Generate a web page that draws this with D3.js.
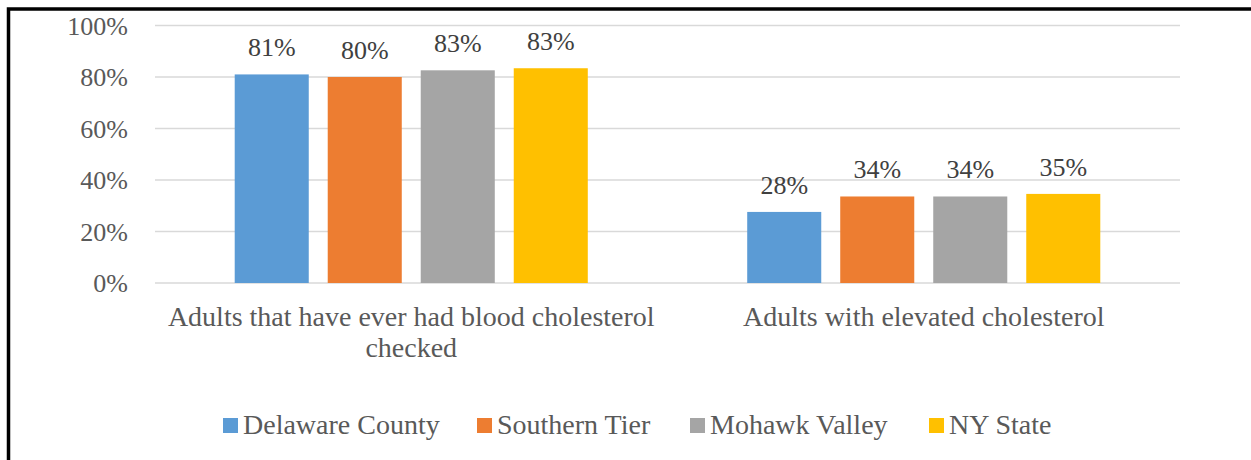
<!DOCTYPE html>
<html><head><meta charset="utf-8">
<script src="https://cdn.jsdelivr.net/npm/d3@7"></script>
<style>html,body{margin:0;padding:0;background:#fff;}svg{display:block;}</style>
</head><body>
<svg id="chart" width="1251" height="460"></svg>
<script>
const categories = ["Adults that have ever had blood cholesterol|checked", "Adults with elevated cholesterol"];
const seriesNames = ["Delaware County", "Southern Tier", "Mohawk Valley", "NY State"];
const seriesColors = ["#5b9bd5", "#ed7d31", "#a5a5a5", "#ffc000"];
const delawareCounty = [0.81, 0.276];
const southernTier = [0.80, 0.336];
const mohawkValley = [0.826, 0.336];
const nyState = [0.834, 0.346];
const yTicks = [0, 0.2, 0.4, 0.6, 0.8, 1.0];

(function () {
const seriesValues = [delawareCounty, southernTier, mohawkValley, nyState];
const svg = d3.select("#chart");
const font = "'Liberation Serif','Times New Roman',serif";

// frame
svg.append("rect").attr("x", 8.5).attr("y", 9).attr("width", 1400).attr("height", 600)
  .attr("fill", "none").attr("stroke", "#000").attr("stroke-width", 3.5);

const pLeft = 155, pRight = 1180, pTop = 25.5, pBottom = 283;
const y = d3.scaleLinear().domain([0, 1]).range([pBottom, pTop]);
const x0 = d3.scaleBand().domain(categories).range([pLeft, pRight]).padding(0);
const x1 = d3.scaleBand().domain(seriesNames).range([0, x0.bandwidth()])
  .paddingInner(0.204).paddingOuter(0.857);

// gridlines
svg.append("g").selectAll("line").data(yTicks).join("line")
  .attr("x1", pLeft).attr("x2", pRight)
  .attr("y1", d => y(d)).attr("y2", d => y(d))
  .attr("stroke", "#d9d9d9").attr("stroke-width", 1.5);

// y axis labels
const yAxis = d3.axisLeft(y).tickValues(yTicks).tickFormat(d3.format(".0%")).tickSize(0).tickPadding(0);
const gy = svg.append("g").attr("transform", `translate(128,0)`).call(yAxis);
gy.select(".domain").remove();
gy.selectAll("text").attr("font-family", font).attr("font-size", 26).attr("fill", "#595959").attr("dy", "0.34em");

// bars
const data = [];
categories.forEach((c, ci) => seriesNames.forEach((s, si) => data.push({c, s, si, v: seriesValues[si][ci]})));
svg.append("g").selectAll("rect").data(data).join("rect")
  .attr("x", d => x0(d.c) + x1(d.s))
  .attr("y", d => y(d.v))
  .attr("width", x1.bandwidth())
  .attr("height", d => y(0) - y(d.v))
  .attr("fill", (d) => seriesColors[d.si]);

// data labels
svg.append("g").selectAll("text").data(data).join("text")
  .attr("x", d => x0(d.c) + x1(d.s) + x1.bandwidth() / 2)
  .attr("y", d => y(d.v) - 18)
  .attr("text-anchor", "middle")
  .attr("font-family", font).attr("font-size", 26).attr("fill", "#404040")
  .text(d => Math.round(d.v * 100) + "%");

// category labels
const cg = svg.append("g").selectAll("text").data(categories).join("text")
  .attr("x", d => x0(d) + x0.bandwidth() / 2)
  .attr("y", 326)
  .attr("text-anchor", "middle")
  .attr("font-family", font).attr("font-size", 28).attr("fill", "#595959");
cg.each(function(d) {
  const lines = d.split("|");
  const t = d3.select(this);
  lines.forEach((ln, i) => t.append("tspan").attr("x", x0(d) + x0.bandwidth() / 2).attr("dy", i === 0 ? 0 : 31).text(ln));
});

// legend
const legendX = [223, 477, 690, 929];
const lg = svg.append("g").selectAll("g").data(seriesNames).join("g")
  .attr("transform", (d, i) => `translate(${legendX[i]},418)`);
lg.append("rect").attr("width", 15).attr("height", 15).attr("fill", (d, i) => seriesColors[i]);
lg.append("text").attr("x", 20).attr("y", 16)
  .attr("font-family", font).attr("font-size", 28).attr("fill", "#595959").text(d => d);
})();
</script>
</body></html>
